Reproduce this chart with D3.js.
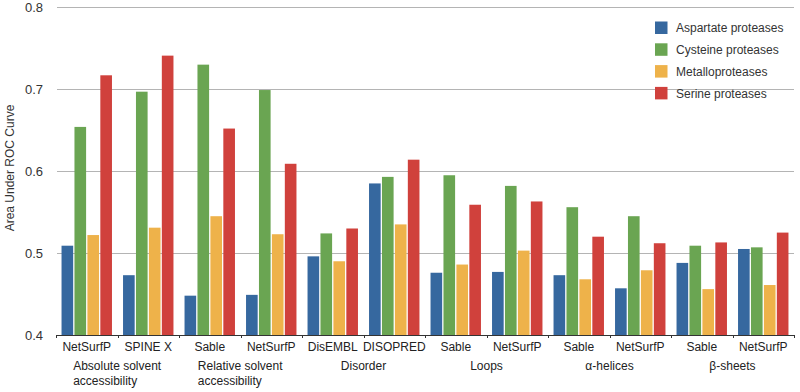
<!DOCTYPE html>
<html>
<head>
<meta charset="utf-8">
<script src="https://cdn.jsdelivr.net/npm/d3@7"></script>
<style>
  body { margin: 0; background: #fff; }
  text { font-family: "Liberation Sans", Arial, sans-serif; fill: #222; }
</style>
</head>
<body>
<div id="my_dataviz"></div>
<script>
// methods (x tick labels) and their groups
var methods = ["NetSurfP", "SPINE X", "Sable", "NetSurfP", "DisEMBL", "DISOPRED",
               "Sable", "NetSurfP", "Sable", "NetSurfP", "Sable", "NetSurfP"];
var groups = [
  ["Absolute solvent", "accessibility"],
  ["Relative solvent", "accessibility"],
  ["Disorder"],
  ["Loops"],
  ["\u03b1-helices"],
  ["\u03b2-sheets"]
];
var series = ["Aspartate proteases", "Cysteine proteases", "Metalloproteases", "Serine proteases"];
var colors = ["#36689f", "#6aa552", "#eeb24a", "#d0413c"];

// values, one array per series
var aspartate = [0.509, 0.473, 0.448, 0.449, 0.496, 0.585, 0.476, 0.477, 0.473, 0.457, 0.488, 0.505];
var cysteine  = [0.654, 0.697, 0.730, 0.699, 0.524, 0.593, 0.595, 0.582, 0.556, 0.545, 0.509, 0.507];
var metallo   = [0.522, 0.531, 0.545, 0.523, 0.490, 0.535, 0.486, 0.503, 0.468, 0.479, 0.456, 0.461];
var serine    = [0.717, 0.741, 0.652, 0.609, 0.530, 0.614, 0.559, 0.563, 0.520, 0.512, 0.513, 0.525];
var yTicks = [0.4, 0.5, 0.6, 0.7, 0.8];

var allValues = [aspartate, cysteine, metallo, serine];
var data = methods.map(function(m, i) {
  return { idx: i, name: m, values: allValues.map(function(s) { return s[i]; }) };
});

var width = 800, height = 392;
var svg = d3.select("#my_dataviz")
  .append("svg")
  .attr("width", width)
  .attr("height", height);

var plotLeft = 56, plotRight = 794, plotTop = 7.3, plotBottom = 335;

// X scale: one band per method
var x = d3.scaleBand()
  .domain(d3.range(methods.length))
  .range([plotLeft, plotRight])
  .paddingInner(0.18)
  .paddingOuter(0.09);
var xStep = (plotRight - plotLeft) / methods.length;

var xSub = d3.scaleBand()
  .domain(d3.range(series.length))
  .range([0, x.bandwidth()])
  .paddingInner(0.1)
  .paddingOuter(0);

// Y scale
var y = d3.scaleLinear()
  .domain([0.4, 0.8])
  .range([plotBottom, plotTop]);

// gridlines
svg.append("g")
  .selectAll("line")
  .data(yTicks.slice(1))
  .enter()
  .append("line")
    .attr("x1", plotLeft + 1)
    .attr("x2", plotRight)
    .attr("y1", function(d) { return Math.round(y(d)) + 0.5; })
    .attr("y2", function(d) { return Math.round(y(d)) + 0.5; })
    .attr("stroke", "#b4b4b4")
    .attr("stroke-width", 1);

// y tick labels
svg.append("g")
  .selectAll("text")
  .data(yTicks)
  .enter()
  .append("text")
    .attr("x", 43)
    .attr("y", function(d) { return y(d); })
    .attr("dy", "0.35em")
    .attr("text-anchor", "end")
    .style("font-size", "13px")
    .style("fill", "#333")
    .text(function(d) { return d3.format(".1f")(d); });

// y title
svg.append("text")
  .attr("transform", "translate(14,168)rotate(-90)")
  .attr("text-anchor", "middle")
  .style("font-size", "12px")
  .style("fill", "#333")
  .text("Area Under ROC Curve");

// bars
var bars = svg.append("g")
  .selectAll("g")
  .data(data)
  .enter()
  .append("g")
    .attr("transform", function(d) { return "translate(" + x(d.idx) + ",0)"; });

bars.selectAll("rect")
  .data(function(d) { return d.values; })
  .enter()
  .append("rect")
    .attr("x", function(d, i) { return xSub(i); })
    .attr("y", function(d) { return y(d); })
    .attr("width", xSub.bandwidth())
    .attr("height", function(d) { return plotBottom - y(d); })
    .attr("fill", function(d, i) { return colors[i]; });

// x axis line and ticks between methods
svg.append("line")
  .attr("x1", plotLeft)
  .attr("x2", plotRight)
  .attr("y1", plotBottom + 0.5)
  .attr("y2", plotBottom + 0.5)
  .attr("stroke", "#333")
  .attr("stroke-width", 1.2);

svg.append("g")
  .selectAll("line")
  .data(d3.range(methods.length + 1))
  .enter()
  .append("line")
    .attr("x1", function(d) { return Math.round(plotLeft + d * xStep) + 0.5; })
    .attr("x2", function(d) { return Math.round(plotLeft + d * xStep) + 0.5; })
    .attr("y1", plotBottom)
    .attr("y2", plotBottom + 3)
    .attr("stroke", "#333");

// method labels
svg.append("g")
  .selectAll("text")
  .data(data)
  .enter()
  .append("text")
    .attr("x", function(d) { return x(d.idx) + x.bandwidth() / 2; })
    .attr("y", 351)
    .attr("text-anchor", "middle")
    .style("font-size", "12px")
    .text(function(d) { return d.name; });

// group labels, block centred on the pair, lines left aligned
groups.forEach(function(lines, g) {
  var cx = plotLeft + (2 * g + 1) * xStep;
  var t = svg.append("text")
    .style("font-size", "12px");
  lines.forEach(function(l, k) {
    t.append("tspan").attr("x", 0).attr("y", 370 + k * 15).text(l);
  });
  if (lines.length > 1) {
    var w = t.node().getBBox().width;
    t.selectAll("tspan").attr("x", cx - w / 2);
  } else {
    t.attr("text-anchor", "middle").selectAll("tspan").attr("x", cx);
  }
});

// legend
var legend = svg.append("g")
  .selectAll("g")
  .data(series)
  .enter()
  .append("g")
    .attr("transform", function(d, i) { return "translate(655," + (21.5 + i * 21.8) + ")"; });

legend.append("rect")
  .attr("width", 12.5)
  .attr("height", 12.5)
  .attr("fill", function(d, i) { return colors[i]; });

legend.append("text")
  .attr("x", 21)
  .attr("y", 6.5)
  .attr("dy", "0.35em")
  .style("font-size", "12px")
  .style("fill", "#333")
  .text(function(d) { return d; });
</script>
</body>
</html>
